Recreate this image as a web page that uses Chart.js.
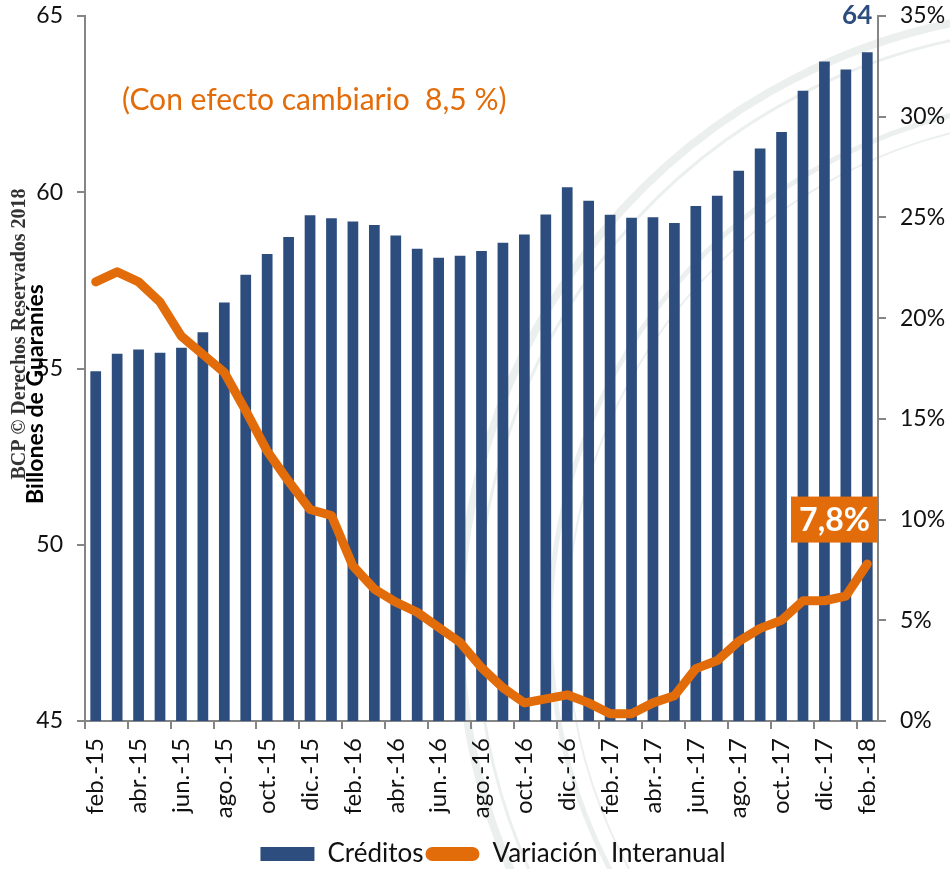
<!DOCTYPE html>
<html>
<head>
<meta charset="utf-8">
<script src="https://cdn.jsdelivr.net/npm/chart.js@4/dist/chart.umd.min.js"></script>
<style>
    html, body { margin: 0; padding: 0; background: #fff; }
    #wrap { width: 950px; height: 869px; position: relative; }
</style>
</head>
<body>
<div id="wrap"><canvas id="creditos-chart" width="950" height="869"></canvas></div>
<script>
// Datos del gráfico
const meses = [
    'feb.-15', 'mar.-15', 'abr.-15', 'may.-15', 'jun.-15', 'jul.-15', 'ago.-15', 'sep.-15', 'oct.-15', 'nov.-15', 'dic.-15',
    'ene.-16', 'feb.-16', 'mar.-16', 'abr.-16', 'may.-16', 'jun.-16', 'jul.-16', 'ago.-16', 'sep.-16', 'oct.-16', 'nov.-16', 'dic.-16',
    'ene.-17', 'feb.-17', 'mar.-17', 'abr.-17', 'may.-17', 'jun.-17', 'jul.-17', 'ago.-17', 'sep.-17', 'oct.-17', 'nov.-17', 'dic.-17',
    'ene.-18', 'feb.-18'
];

// Billones de guaraníes
const creditos = [
    54.92, 55.42, 55.54, 55.45, 55.59, 56.03, 56.87, 57.66, 58.25, 58.73, 59.35,
    59.26, 59.17, 59.07, 58.77, 58.40, 58.14, 58.20, 58.33, 58.57, 58.80, 59.37, 60.14,
    59.76, 59.36, 59.28, 59.29, 59.13, 59.61, 59.90, 60.61, 61.24, 61.71, 62.88, 63.71,
    63.48, 63.97
];

// Variación interanual (%)
const variacion = [
    21.8, 22.3, 21.8, 20.8, 19.1, 18.2, 17.3, 15.4, 13.4, 11.9, 10.5,
    10.2, 7.7, 6.55, 5.9, 5.4, 4.65, 3.9, 2.65, 1.65, 0.9, 1.1, 1.3,
    0.9, 0.36, 0.36, 0.9, 1.25, 2.6, 3.0, 3.95, 4.6, 5.0, 5.97, 5.97,
    6.2, 7.8
];

const ticksIzq = [45, 50, 55, 60, 65];
const ticksDer = [0, 5, 10, 15, 20, 25, 30, 35];

const AZUL = '#2c4d7e';
const NARANJA = '#e36c0a';
const GRIS = '#858585';
const FUENTE = 'Lato, "Open Sans", sans-serif';

// Sello de fondo (marca de agua), detrás de todo
const selloPlugin = {
    id: 'sello',
    beforeDraw(chart) {
        const ctx = chart.ctx;
        const cx = chart.width + 125, cy = chart.height * 0.72;
        ctx.save();
        ctx.strokeStyle = 'rgba(228, 233, 231, 0.75)';
        [[615, 8], [598, 3], [525, 5], [508, 2]].forEach(([r, w]) => {
            ctx.lineWidth = w;
            ctx.beginPath();
            ctx.arc(cx, cy, r, Math.PI * 0.6, Math.PI * 1.6);
            ctx.stroke();
        });
        ctx.restore();
    }
};

// Leyenda algo desplazada a la derecha, como en el original
const leyendaPlugin = {
    id: 'leyendaDesplazada',
    afterLayout(chart) {
        chart.legend.left += 18;
        chart.legend.right += 18;
    }
};

// Textos sobre el gráfico
const anotacionesPlugin = {
    id: 'anotaciones',
    afterDraw(chart) {
        const ctx = chart.ctx;
        const x = chart.scales.x;
        const y = chart.scales.y;
        const y1 = chart.scales.y1;
        const area = chart.chartArea;
        const ultimo = creditos.length - 1;

        ctx.save();

        // valor último crédito
        ctx.fillStyle = AZUL;
        ctx.font = 'bold 26px ' + FUENTE;
        ctx.textAlign = 'right';
        ctx.textBaseline = 'middle';
        ctx.fillText(Math.round(creditos[ultimo]).toString(), x.getPixelForValue(ultimo) + 5, y.getPixelForValue(65));

        // nota efecto cambiario
        ctx.fillStyle = NARANJA;
        ctx.font = '30px ' + FUENTE;
        ctx.textAlign = 'left';
        ctx.fillText('(Con efecto cambiario  8,5 %)', area.left + 37, y.getPixelForValue(62.6));

        // recuadro variación
        const bw = 87, bh = 46;
        const by = y1.getPixelForValue(10);
        ctx.fillStyle = NARANJA;
        ctx.fillRect(area.right - bw, by - bh / 2, bw, bh);
        ctx.fillStyle = '#fff';
        ctx.font = 'bold 32px ' + FUENTE;
        ctx.textAlign = 'center';
        ctx.fillText(variacion[ultimo].toFixed(1).replace('.', ',') + '%', area.right - bw / 2, by + 1);

        // marca de derechos y título del eje
        ctx.textBaseline = 'alphabetic';
        ctx.save();
        ctx.translate(25, 334);
        ctx.rotate(-Math.PI / 2);
        ctx.fillStyle = '#333';
        ctx.font = 'bold 20px "Liberation Serif", "DejaVu Serif", serif';
        ctx.textAlign = 'center';
        ctx.fillText('BCP © Derechos Reservados 2018', 0, 0);
        ctx.restore();

        ctx.save();
        ctx.translate(43, 394);
        ctx.rotate(-Math.PI / 2);
        ctx.fillStyle = '#000';
        ctx.font = 'bold 23px ' + FUENTE;
        ctx.textAlign = 'center';
        ctx.fillText('Billones de Guaraníes', 0, 0);
        ctx.restore();

        ctx.restore();
    }
};

function sinPaddingVertical(scale) {
    scale.paddingTop = 0;
    scale.paddingBottom = 0;
}

new Chart(document.getElementById('creditos-chart'), {
    type: 'bar',
    data: {
        labels: meses,
        datasets: [
            {
                type: 'bar',
                label: 'Créditos',
                data: creditos,
                backgroundColor: AZUL,
                categoryPercentage: 1,
                barPercentage: 0.5,
                yAxisID: 'y',
                order: 2
            },
            {
                type: 'line',
                label: 'Variación  Interanual',
                data: variacion,
                borderColor: NARANJA,
                backgroundColor: NARANJA,
                borderWidth: 9,
                borderJoinStyle: 'round',
                borderCapStyle: 'round',
                pointRadius: 0,
                tension: 0,
                yAxisID: 'y1',
                order: 1
            }
        ]
    },
    plugins: [selloPlugin, leyendaPlugin, anotacionesPlugin],
    options: {
        responsive: false,
        animation: false,
        layout: { padding: { top: 16, bottom: -8 } },
        plugins: {
            tooltip: { enabled: false },
            legend: {
                position: 'bottom',
                labels: {
                    color: '#111',
                    font: { family: FUENTE, size: 26 },
                    boxWidth: 54,
                    boxHeight: 14,
                    padding: 2,
                    useBorderRadius: true,
                    generateLabels(chart) {
                        return chart.data.datasets.map((ds, i) => ({
                            text: ds.label,
                            fillStyle: ds.type === 'line' ? ds.borderColor : ds.backgroundColor,
                            strokeStyle: ds.type === 'line' ? ds.borderColor : ds.backgroundColor,
                            lineWidth: 0,
                            borderRadius: ds.type === 'line' ? 7 : 0,
                            fontColor: '#111',
                            hidden: false,
                            datasetIndex: i
                        }));
                    }
                }
            }
        },
        scales: {
            x: {
                offset: true,
                grid: {
                    offset: true,
                    drawOnChartArea: false,
                    tickLength: 8,
                    lineWidth: 2,
                    color: (c) => (c.index % 2 === 0 ? GRIS : 'rgba(0,0,0,0)')
                },
                border: { color: GRIS, width: 2 },
                ticks: {
                    autoSkip: false,
                    minRotation: 90,
                    maxRotation: 90,
                    padding: 9,
                    color: '#111',
                    font: { family: FUENTE, size: 24 },
                    callback: (v, i) => (i % 2 === 0 ? meses[i] : '')
                },
                afterFit(scale) { scale.height = 118; }
            },
            y: {
                position: 'left',
                min: ticksIzq[0],
                max: ticksIzq[ticksIzq.length - 1],
                afterBuildTicks(scale) { scale.ticks = ticksIzq.map(v => ({ value: v })); },
                grid: { drawOnChartArea: false, tickLength: 8, lineWidth: 2, color: GRIS },
                border: { color: GRIS, width: 2 },
                ticks: {
                    padding: 14,
                    color: '#111',
                    font: { family: FUENTE, size: 23 }
                },
                afterFit(scale) { scale.width = 85; sinPaddingVertical(scale); }
            },
            y1: {
                position: 'right',
                min: ticksDer[0],
                max: ticksDer[ticksDer.length - 1],
                afterBuildTicks(scale) { scale.ticks = ticksDer.map(v => ({ value: v })); },
                grid: { drawOnChartArea: false, tickLength: 8, lineWidth: 2, color: GRIS },
                border: { color: GRIS, width: 2 },
                ticks: {
                    padding: 14,
                    color: '#111',
                    font: { family: FUENTE, size: 23 },
                    callback: (v) => v + '%'
                },
                afterFit(scale) { scale.width = 72; sinPaddingVertical(scale); }
            }
        }
    }
});
</script>
</body>
</html>
